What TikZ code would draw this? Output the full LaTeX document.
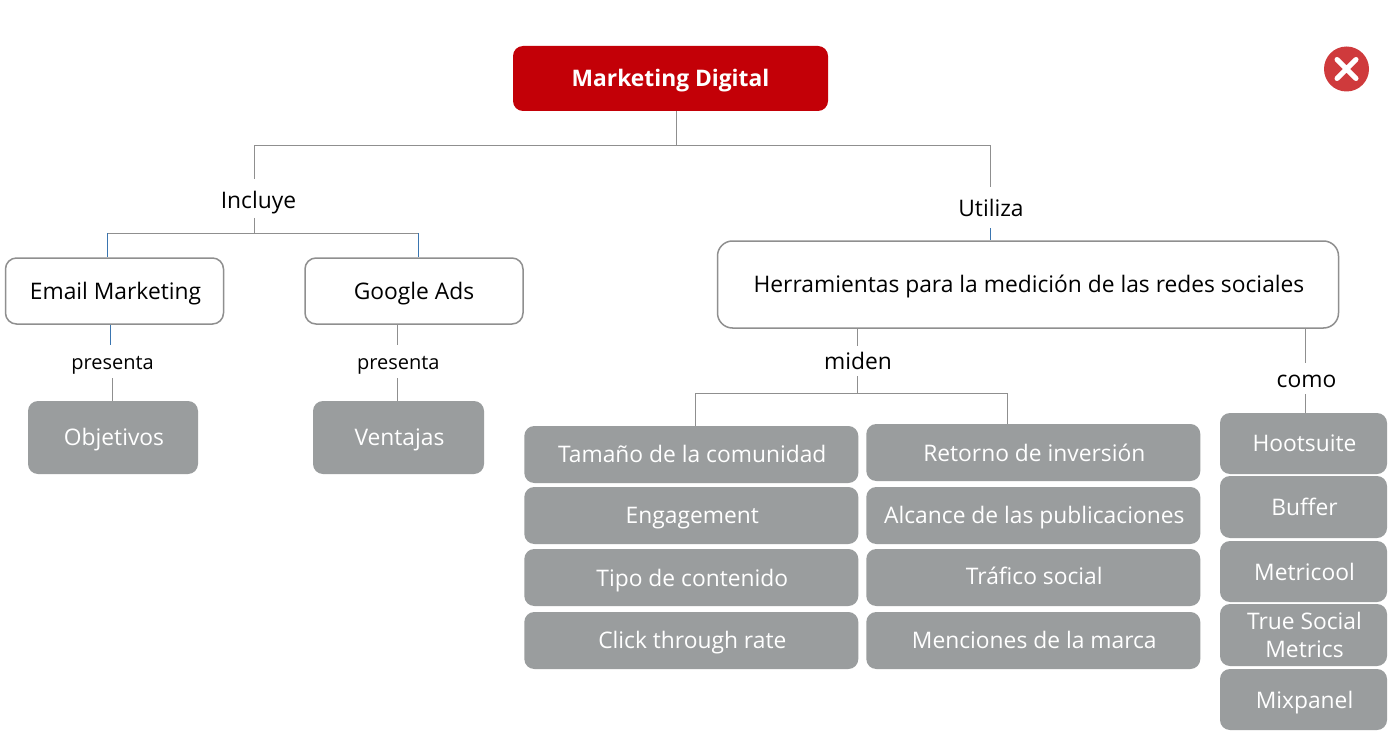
\documentclass[tikz,border=0pt]{standalone}
\usepackage{fontspec}
\setmainfont{Open Sans}
\definecolor{rootred}{HTML}{C30007}
\definecolor{boxgray}{HTML}{9A9D9E}
\definecolor{linegray}{HTML}{8F8F8F}
\definecolor{lineblue}{HTML}{3A75B0}
\definecolor{closered}{HTML}{CF3A3C}
\newcommand{\fsz}[1]{\fontsize{#1}{#1}\selectfont}
\tikzset{
  x=1pt,y=-1pt,
  level/.style={text height=18pt,text depth=2pt},
  low/.style={text height=20pt,text depth=2pt},
  high/.style={text height=16pt,text depth=2pt},
  nudge/.style={execute at begin node={\hspace*{2pt}}},
  rootbox/.style={level,draw=none,fill=rootred,rounded corners=10pt,text=white,font=\fsz{22.8}\bfseries,minimum width=315pt,minimum height=65pt,inner sep=0pt},
  whitebox/.style={level,draw=linegray,line width=1.5pt,fill=white,rounded corners=11pt,text=black,font=\fsz{22.8},inner sep=0pt},
  grayshape/.style={draw=none,fill=boxgray,rounded corners=10pt,text=white,font=\fsz{22.8},inner sep=0pt,align=center},
  graybox/.style={grayshape,level,nudge},
  linklabel/.style={level,text=black,inner sep=0pt,font=\fsz{22.8}},
  conn/.style={draw=linegray,line width=1pt},
  connblue/.style={draw=lineblue,line width=1pt},
}
\begin{document}
\begin{tikzpicture}
\useasboundingbox (0,0) rectangle (1397,738);
\fill[white] (0,0) rectangle (1397,738);
% boxes
\node[rootbox] (root) at (670.5,78.5) {Marketing Digital};
\node[whitebox,nudge,minimum width=218pt,minimum height=66pt] (email) at (114.5,291) {Email Marketing};
\node[whitebox,minimum width=218pt,minimum height=66pt] (google) at (414,291) {Google Ads};
\node[whitebox,nudge,rounded corners=15pt,minimum width=621pt,minimum height=87pt] (herr) at (1028,284.5) {Herramientas para la medición de las redes sociales};
\node[graybox,minimum width=170pt,minimum height=73pt] (obj) at (113,437.5) {Objetivos};
\node[graybox,minimum width=171pt,minimum height=73pt] (ven) at (398.5,437.5) {Ventajas};
\node[graybox,minimum width=334pt,minimum height=57pt] (l1) at (691.3,454.5) {Tamaño de la comunidad};
\node[graybox,minimum width=334pt,minimum height=57pt] (l2) at (691.3,515.5) {Engagement};
\node[graybox,low,minimum width=334pt,minimum height=57pt] (l3) at (691.3,577.5) {Tipo de contenido};
\node[graybox,minimum width=334pt,minimum height=57pt] (l4) at (691.3,640.5) {Click through rate};
\node[graybox,low,minimum width=334pt,minimum height=57pt] (r1) at (1033.3,452.5) {Retorno de inversión};
\node[graybox,minimum width=334pt,minimum height=57pt] (r2) at (1033.3,515.5) {Alcance de las publicaciones};
\node[graybox,high,minimum width=334pt,minimum height=57pt] (r3) at (1033.3,577.5) {Tráfico social};
\node[graybox,minimum width=334pt,minimum height=57pt] (r4) at (1033.3,640.5) {Menciones de la marca};
\node[graybox,minimum width=167pt,minimum height=61pt] (t1) at (1303.5,443.5) {Hootsuite};
\node[graybox,minimum width=167pt,minimum height=62pt] (t2) at (1303.5,507) {Buffer};
\node[graybox,low,minimum width=167pt,minimum height=61pt] (t3) at (1303.5,571.5) {Metricool};
\node[grayshape,minimum width=167pt,minimum height=62pt] (t4) at (1303.5,635) {\hspace*{2pt}True Social\\[5pt]\hspace*{2pt}Metrics};
\node[graybox,low,minimum width=167pt,minimum height=61pt] (t5) at (1303.5,699.5) {Mixpanel};
% labels
\node[linklabel] (incl) at (258.5,200) {Incluye};
\node[linklabel] (util) at (991,208) {Utiliza};
\node[linklabel,font=\fsz{20}] (pres1) at (112.5,361) {presenta};
\node[linklabel,font=\fsz{20}] (pres2) at (398.3,361) {presenta};
\node[linklabel] (mid) at (858,361) {miden};
\node[linklabel] (como) at (1306.5,379) {como};
% junction coordinates
\coordinate (j0) at (676,146);
\coordinate (ja) at (254,146);
\coordinate (jb) at (990,146);
\coordinate (ia) at (254,179);
\coordinate (ib) at (254,218);
\coordinate (jc) at (254,233);
\coordinate (jd) at (107,233);
\coordinate (je) at (418,233);
\coordinate (ua) at (990,187);
\coordinate (ub) at (990,228);
\coordinate (pa) at (110,345);
\coordinate (pb) at (112,378);
\coordinate (qa) at (397,345);
\coordinate (qb) at (397,378);
\coordinate (ma) at (857,346);
\coordinate (mb) at (857,376);
\coordinate (mc) at (857,393);
\coordinate (md) at (695.5,393);
\coordinate (me) at (1007,393);
\coordinate (ca) at (1305,363);
\coordinate (cb) at (1305,394);
% connectors
\draw[conn] (root.south -| j0) -- (j0);
\draw[conn] (ia) -- (ja) -- (jb) -- (ua);
\draw[conn] (ib) -- (jc);
\draw[conn] (jd) -- (je);
\draw[connblue] (jd) -- (jd |- email.north);
\draw[connblue] (je) -- (je |- google.north);
\draw[connblue] (ub) -- (ub |- herr.north);
\draw[connblue] (email.south -| pa) -- (pa);
\draw[conn] (pb) -- (pb |- obj.north);
\draw[conn] (google.south -| qa) -- (qa);
\draw[conn] (qb) -- (qb |- ven.north);
\draw[conn] (herr.south -| ma) -- (ma);
\draw[conn] (mb) -- (mc);
\draw[conn] (md) -- (me);
\draw[conn] (md) -- (md |- l1.north);
\draw[conn] (me) -- (me |- r1.north);
\draw[conn] (herr.south -| ca) -- (ca);
\draw[conn] (cb) -- (cb |- t1.north);
% close icon
\fill[closered] (1346.5,69) circle (22.5);
\draw[white,line width=5pt,line cap=round] (1337,59.5) -- (1356,78.5) (1356,59.5) -- (1337,78.5);
\end{tikzpicture}
\end{document}
